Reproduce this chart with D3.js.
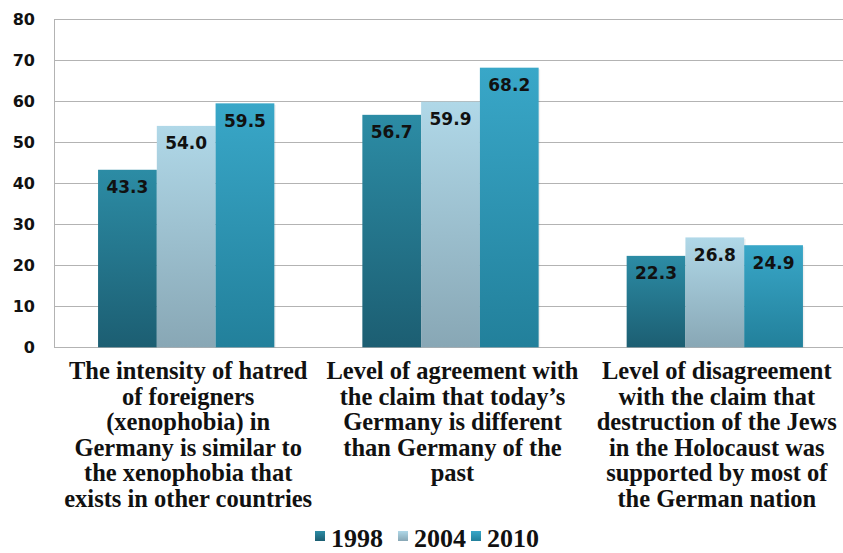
<!DOCTYPE html>
<html>
<head>
<meta charset="utf-8">
<script src="https://cdn.jsdelivr.net/npm/d3@7"></script>
<style>
  html, body { margin: 0; padding: 0; background: #fff; }
  svg { display: block; }
</style>
</head>
<body>
<svg id="chart" width="843" height="553"></svg>
<script>
const categories = [
  ["The intensity of hatred", "of foreigners", "(xenophobia) in", "Germany is similar to", "the xenophobia that", "exists in other countries"],
  ["Level of agreement with", "the claim that today\u2019s", "Germany is different", "than Germany of the", "past"],
  ["Level of disagreement", "with the claim that", "destruction of the Jews", "in the Holocaust was", "supported by most of", "the German nation"]
];
const seriesNames = ["1998", "2004", "2010"];
const values1998 = [43.3, 56.7, 22.3];
const values2004 = [54.0, 59.9, 26.8];
const values2010 = [59.5, 68.2, 24.9];
const yTicks = [0, 10, 20, 30, 40, 50, 60, 70, 80];

const series = [values1998, values2004, values2010];
const gradStops = [
  ["#2c8ca5", "#1c5e72"],
  ["#b0d8e8", "#88a7b5"],
  ["#39a7c8", "#22809b"]
];

const svg = d3.select("#chart");
const mLeft = 54, mRight = 847, mTop = 19.3, mBottom = 347.3;

const x0 = d3.scaleBand().domain(d3.range(categories.length)).range([mLeft, mRight]).paddingInner(0.333).paddingOuter(0.1667);
const x1 = d3.scaleBand().domain(d3.range(seriesNames.length)).range([0, x0.bandwidth()]).padding(0);
const y = d3.scaleLinear().domain([0, 80]).range([mBottom, mTop]);

const defs = svg.append("defs");
gradStops.forEach((g, i) => {
  const lg = defs.append("linearGradient").attr("id", "g" + i).attr("x1", 0).attr("y1", 0).attr("x2", 0).attr("y2", 1);
  lg.append("stop").attr("offset", "0%").attr("stop-color", g[0]);
  lg.append("stop").attr("offset", "100%").attr("stop-color", g[1]);
});

// gridlines
svg.append("g").selectAll("line").data(yTicks).join("line")
  .attr("x1", mLeft).attr("x2", mRight)
  .attr("y1", d => Math.round(y(d)) + 0.5).attr("y2", d => Math.round(y(d)) + 0.5)
  .attr("stroke", "#b3b3b3").attr("stroke-width", 1);
svg.append("line").attr("x1", mLeft + 0.5).attr("x2", mLeft + 0.5).attr("y1", y(80)).attr("y2", y(0))
  .attr("stroke", "#b3b3b3");

// y axis labels
const yAxis = d3.axisLeft(y).tickValues(yTicks).tickSize(0).tickPadding(0).tickFormat(d3.format("d"));
const ya = svg.append("g").attr("transform", `translate(${mLeft - 19},0)`).call(yAxis);
ya.select(".domain").remove();
ya.selectAll("text").attr("font-family", "DejaVu Sans").attr("font-weight", "bold")
  .attr("font-size", "16px").attr("fill", "#111").attr("dy", "0.35em");

// bars
const groups = svg.append("g").selectAll("g").data(categories).join("g")
  .attr("transform", (d, i) => `translate(${x0(i)},0)`);
groups.each(function(c, ci) {
  const g = d3.select(this);
  series.forEach((vals, si) => {
    const v = vals[ci];
    const bx = x1(si), bw = x1.bandwidth();
    g.append("rect").attr("x", bx + 1.5).attr("y", y(v) + 1.5).attr("width", bw).attr("height", y(0) - y(v) - 1.5)
      .attr("fill", "#000").attr("opacity", 0.06);
    g.append("rect").attr("x", bx).attr("y", y(v)).attr("width", bw).attr("height", y(0) - y(v))
      .attr("fill", `url(#g${si})`);
    g.append("text").attr("x", bx + bw / 2).attr("y", y(v) + 23.5)
      .attr("text-anchor", "middle").attr("font-family", "DejaVu Sans").attr("font-weight", "bold")
      .attr("font-size", "17px").attr("fill", "#111").text(v.toFixed(1));
  });
});

// category labels
categories.forEach((lines, ci) => {
  const t = svg.append("text").attr("text-anchor", "middle")
    .attr("font-family", "Liberation Serif").attr("font-weight", "bold").attr("font-size", "24.5px").attr("fill", "#111");
  lines.forEach((ln, li) => {
    t.append("tspan").attr("x", x0(ci) + x0.bandwidth() / 2 + 2).attr("y", 379 + li * 25.5).text(ln);
  });
});

// legend
const legendX = [315, 398, 471];
const lgd = svg.append("g");
seriesNames.forEach((name, i) => {
  lgd.append("rect").attr("x", legendX[i]).attr("y", 531).attr("width", 10).attr("height", 10).attr("fill", `url(#g${i})`);
  lgd.append("text").attr("x", legendX[i] + 16).attr("y", 547)
    .attr("font-family", "Liberation Serif").attr("font-weight", "bold").attr("font-size", "26px").attr("fill", "#111").text(name);
});
</script>
</body>
</html>
